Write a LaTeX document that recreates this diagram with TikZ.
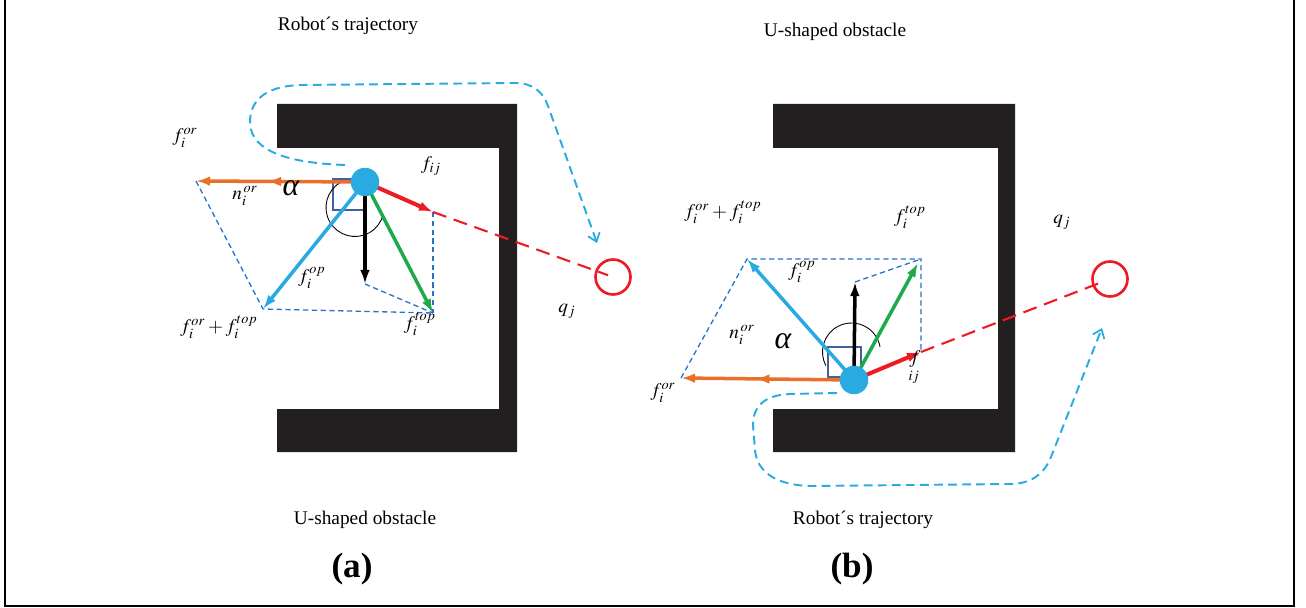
\documentclass[tikz,border=0pt]{standalone}
\usepackage{mathptmx}
\usepackage{fontspec}
\setmainfont{Liberation Serif}
\usetikzlibrary{arrows.meta,decorations.markings}
\definecolor{cyanb}{HTML}{29ABE2}
\definecolor{orng}{HTML}{E8702A}
\definecolor{redv}{HTML}{ED1C24}
\definecolor{grn}{HTML}{1EAA4B}
\definecolor{guide}{HTML}{2673C8}
\definecolor{sqc}{HTML}{42609C}
\definecolor{obst}{HTML}{231F20}
\tikzset{
  vec/.style={line width=2pt,-{Latex[length=8pt,width=5.5pt]}},
  midarrow/.style={postaction={decorate},decoration={markings,mark=at position #1 with {\arrow{Latex[length=8pt,width=5.5pt]}}}},
  guideline/.style={guide,line width=0.75pt,dash pattern=on 3pt off 2pt},
  traj/.style={cyanb,line width=1.1pt,dash pattern=on 5pt off 3pt,-{Straight Barb[length=4.5pt,width=7pt,line width=1pt]}},
  reddash/.style={redv,line width=1.2pt,dash pattern=on 8pt off 4.5pt},
  robotnode/.style={circle,fill=cyanb,inner sep=0pt,minimum size=0.57cm},
  goalnode/.style={circle,draw=redv,line width=1.5pt,inner sep=0pt,minimum size=0.7cm},
  obstacle/.style={fill=obst},
  rightsq/.style={draw=sqc,line width=0.6pt},
  anglearc/.style={draw=black,line width=0.5pt},
  lbl/.style={font=\fontsize{11}{13}\selectfont,inner sep=1pt},
  mlbl/.style={font=\fontsize{11}{13}\selectfont,inner sep=0pt},
  alphalbl/.style={font=\fontsize{18}{20}\selectfont\itshape,inner sep=1pt},
  panel/.style={font=\fontsize{20}{22}\selectfont\bfseries,inner sep=1pt},
  frame/.style={line width=1.2pt}
}
\begin{document}
\begin{tikzpicture}[x=0.02cm,y=-0.02cm]
\useasboundingbox (0,0) rectangle (1306,608);
% frame
\coordinate (f1) at (5,0);
\coordinate (f2) at (5,606);
\coordinate (f3) at (1294,606);
\coordinate (f4) at (1294,0);
\draw[frame] (f1) -- (f2) -- (f3) -- (f4);

% ================= panel (a) =================
\fill[obstacle] (277,104) -- (517,104) -- (517,452) -- (277,452) -- (277,409) -- (499,409) -- (499,148) -- (277,148) -- cycle;
\coordinate (ca) at (365,182);
\coordinate (oa) at (196,181);
\coordinate (ba) at (263,309);
\coordinate (ka) at (365,284);
\coordinate (ga) at (433,313);
\coordinate (ra) at (433,212);
\node[goalnode] (qa) at (613,277) {};
% guides
\draw[guideline] (oa) -- (ba) -- (ga);
\draw[guideline] (ka) -- (ga);
\draw[guideline] (ra) -- (ga);
% red dashed line
\draw[reddash,shorten >=3pt] (ra) -- (qa.center);
% trajectory
\coordinate (ta1) at (345,165);
\coordinate (ta2) at (597,243);
\draw[traj] (ta1) .. controls (290,163) and (252,152) .. (250,124) .. controls (249,96) and (272,86) .. (300,85) -- (515,83) .. controls (533,83) and (543,92) .. (548,106) -- (ta2);
% right angle and arc
\draw[rightsq] (333,179) rectangle (366,210);
\draw[anglearc] (355,207.5) ++(-120:29) arc[start angle=-120,end angle=-346,radius=29];
% vectors
\draw[vec,orng,midarrow=0.58] (ca) -- (oa);
\draw[vec,cyanb] (ca) -- (ba);
\draw[vec,black] (ca) -- (ka);
\draw[vec,grn] (ca) -- (ga);
\draw[vec,redv,line width=2.3pt] (ca) -- (ra);
\node[robotnode] (rba) at (ca) {};
% labels
\node[lbl] (la1) at (348,26) {Robot´s trajectory};
\node[lbl] (la2) at (365,520) {U-shaped obstacle};
\node[panel] (la3) at (352,569) {(a)};
\node[mlbl] (la4) at (185,138) {$f_i^{or}$};
\node[mlbl] (la5) at (245,196) {$n_i^{\,or}$};
\node[alphalbl] (la6) at (291,188) {α};
\node[mlbl] (la7) at (431,166) {$f_{ij}$};
\node[mlbl] (la8) at (312,278) {$f_i^{op}$};
\node[mlbl] (la9) at (219,327) {$f_i^{or}+f_i^{top}$};
\node[mlbl] (la10) at (420,324) {$f_i^{top}$};
\node[mlbl] (la11) at (567,311) {$q_j$};

% ================= panel (b) =================
\fill[obstacle] (773,104) -- (1015,104) -- (1015,452) -- (773,452) -- (773,409) -- (998,409) -- (998,148) -- (773,148) -- cycle;
\coordinate (cb) at (854,380);
\coordinate (ob) at (681,378);
\coordinate (bb) at (747,259);
\coordinate (kb) at (855,282);
\coordinate (gb) at (918,263);
\coordinate (rb) at (921,352);
\coordinate (tb) at (921,259);
\node[goalnode] (qb) at (1110,279) {};
% guides
\draw[guideline] (ob) -- (bb) -- (tb) -- (rb);
\draw[guideline] (kb) -- (tb);
% red dashed
\draw[reddash,shorten >=3pt] (rb) -- (qb.center);
% trajectory
\coordinate (tb1) at (837,393);
\coordinate (tb2) at (1102,328);
\draw[traj] (tb1) -- (790,394) .. controls (766,395) and (753,405) .. (753,425) -- (755,450) .. controls (757,472) and (776,485) .. (810,486) -- (1010,484) .. controls (1033,484) and (1045,472) .. (1051,457) -- (tb2);
% right angle and arc
\draw[rightsq] (828,347) rectangle (861,377);
\draw[anglearc] (851.5,352) ++(-208:29) arc[start angle=-208,end angle=-10,radius=29];
% vectors
\draw[vec,orng,midarrow=0.57] (cb) -- (ob);
\draw[vec,cyanb] (cb) -- (bb);
\draw[vec,black] (cb) -- (kb);
\draw[vec,grn] (cb) -- (gb);
\draw[vec,redv,line width=2.3pt] (cb) -- (rb);
\node[robotnode] (rbb) at (cb) {};
% labels
\node[lbl] (lb1) at (835,32) {U-shaped obstacle};
\node[lbl] (lb2) at (863,520) {Robot´s trajectory};
\node[panel] (lb3) at (852,569) {(b)};
\node[mlbl] (lb4) at (723,212) {$f_i^{or}+f_i^{top}$};
\node[mlbl] (lb5) at (910,217) {$f_i^{top}$};
\node[mlbl] (lb6) at (802,272) {$f_i^{op}$};
\node[mlbl] (lb7) at (742,335) {$n_i^{\,or}$};
\node[alphalbl] (lb8) at (783,341) {α};
\node[mlbl] (lb9) at (915,368) {$\mathop{f}\limits_{ij}$};
\node[mlbl] (lb10) at (663,393) {$f_i^{or}$};
\node[mlbl] (lb11) at (1062,222) {$q_j$};
\end{tikzpicture}
\end{document}
